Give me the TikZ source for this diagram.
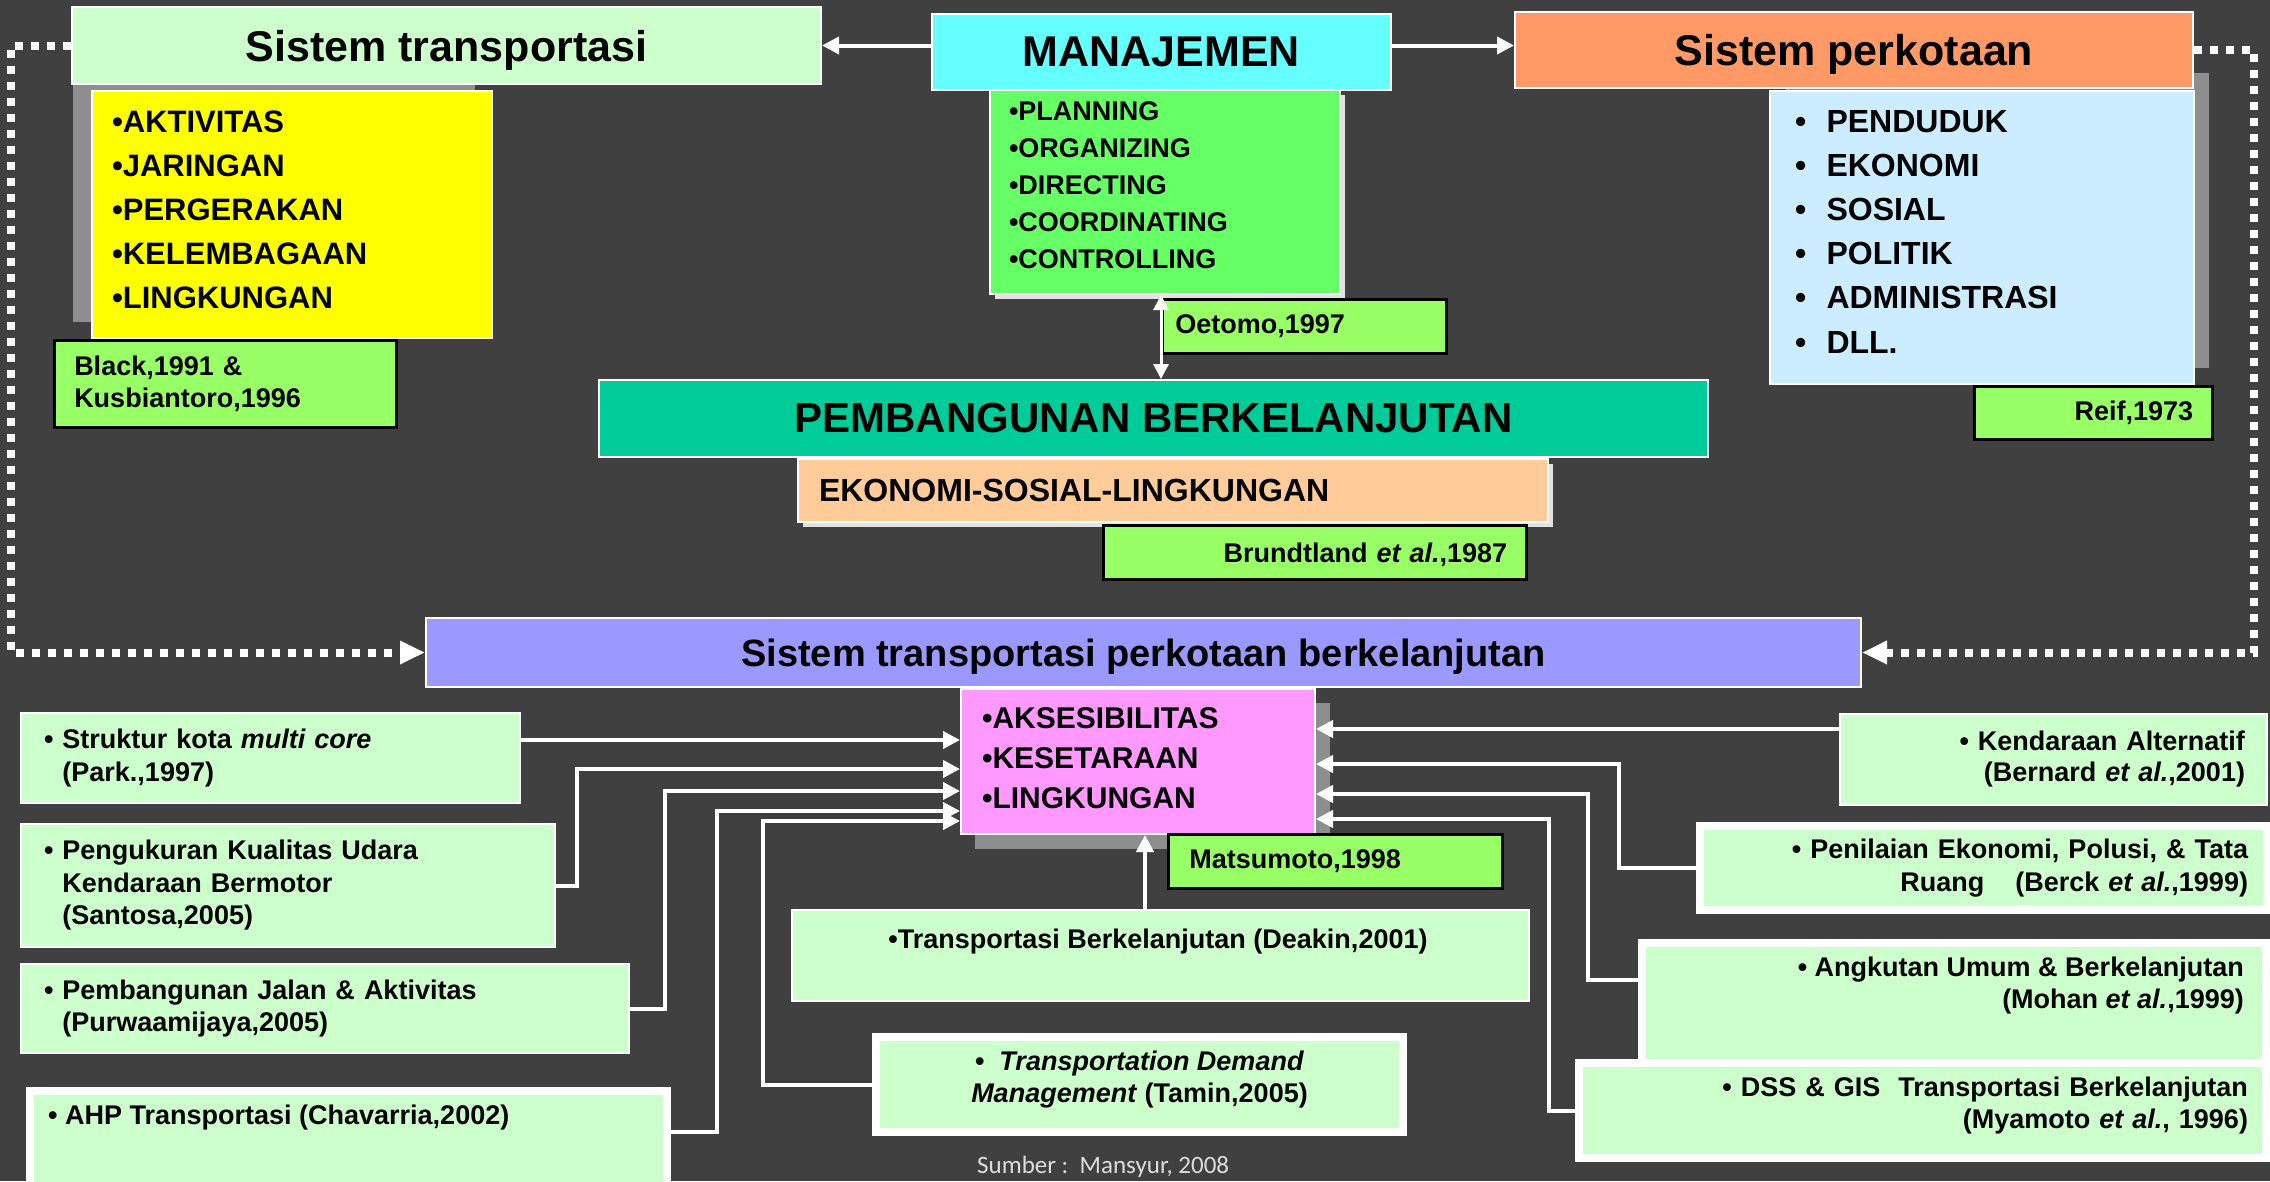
\documentclass[tikz,border=0pt]{standalone}
\usepackage{fontspec}
\setmainfont{Liberation Sans}
\newfontfamily\carlitofont{Carlito}
\usetikzlibrary{arrows.meta,calc}
\definecolor{bg}{HTML}{404040}
\definecolor{lgreen}{HTML}{CCFFCC}
\definecolor{refgreen}{HTML}{99FF66}
\definecolor{yel}{HTML}{FFFF00}
\definecolor{cyanbox}{HTML}{66FFFF}
\definecolor{plangreen}{HTML}{66FF66}
\definecolor{orangebox}{HTML}{FF9966}
\definecolor{lblue}{HTML}{CCECFF}
\definecolor{teal}{HTML}{00CC99}
\definecolor{peach}{HTML}{FFCC99}
\definecolor{violet}{HTML}{9999FF}
\definecolor{pinkbox}{HTML}{FF99FF}
\definecolor{shadowgray}{HTML}{8E8E8E}
\definecolor{shadowlight}{HTML}{E2E2E2}
\definecolor{srcgray}{HTML}{DDDDDD}
\newcommand\setfs[2]{\fontsize{#1}{#2}\selectfont\bfseries}
\begin{document}
\begin{tikzpicture}[x=1pt,y=-1pt,
  box/.style={draw=white, line width=2pt, inner sep=0pt, anchor=north west},
  thickbox/.style={draw=white, line width=8pt, inner sep=0pt, anchor=north west, fill=lgreen},
  refbox/.style={draw=black, line width=2.5pt, fill=refgreen, inner sep=0pt, anchor=north west, font=\setfs{27}{32}},
  txt/.style={inner sep=0pt, font=\setfs{27}{32}},
  arr/.style={draw=white, line width=4pt, -{Triangle[length=17pt,width=17pt]}},
  dotline/.style={draw=white, line width=8pt, dash pattern=on 8pt off 8pt, -{Triangle[length=25pt,width=22pt]}}
]
\fill[bg] (0,0) rectangle (2270,1181);
\useasboundingbox (0,0) rectangle (2270,1181);

% shadows
\fill[shadowgray] (73,85) rectangle (475,322);
\fill[shadowlight] (995,95) rectangle (1345,299);
\fill[shadowgray] (1785,73) rectangle (2209,368);
\fill[shadowlight] (803,464) rectangle (1553,527);
\fill[shadowgray] (975,703) rectangle (1330,849);

% top row
\node[box, fill=lgreen, minimum width=749pt, minimum height=77pt, text depth=0pt, font=\setfs{43}{50}] (st) at (71,6) {Sistem transportasi};
\node[box, fill=cyanbox, minimum width=459pt, minimum height=76pt, font=\setfs{43}{50}] (man) at (931,13) {MANAJEMEN};
\node[box, fill=orangebox, minimum width=678pt, minimum height=76pt, text depth=0pt, font=\setfs{43}{50}] (sp) at (1514,11) {Sistem perkotaan};

\node[box, fill=yel, minimum width=400pt, minimum height=247pt, align=left, text width=360pt, inner xsep=20pt, text depth=186pt, font=\setfs{31}{44}] (yl) at (91,90)
 {•AKTIVITAS\\•JARINGAN\\•PERGERAKAN\\•KELEMBAGAAN\\•LINGKUNGAN};
\node[refbox, minimum width=342pt, minimum height=87pt, align=left, text width=302pt, inner xsep=20pt] (rblack) at (53,339)
 {Black,1991 \&\\Kusbiantoro,1996};

\node[box, fill=plangreen, minimum width=350pt, minimum height=204pt, align=left, text width=312pt, inner xsep=19pt, text depth=161pt, font=\setfs{27}{37}] (plan) at (989,89)
 {•PLANNING\\•ORGANIZING\\•DIRECTING\\•COORDINATING\\•CONTROLLING};
\node[refbox, minimum width=284pt, minimum height=54pt, align=left, text width=258pt, inner xsep=13pt] (roet) at (1161,298) {Oetomo,1997};

\node[box, fill=lblue, minimum width=424pt, minimum height=293pt, align=left, text width=374pt, inner xsep=25pt, text depth=233pt, font=\setfs{32}{44.2}] (lb) at (1769,90)
 {\makebox[31.5pt][l]{•}PENDUDUK\\\makebox[31.5pt][l]{•}EKONOMI\\\makebox[31.5pt][l]{•}SOSIAL\\\makebox[31.5pt][l]{•}POLITIK\\\makebox[31.5pt][l]{•}ADMINISTRASI\\\makebox[31.5pt][l]{•}DLL.};
\node[refbox, minimum width=238pt, minimum height=53pt, align=right, text width=200pt, inner xsep=19pt] (rreif) at (1973,385) {Reif,1973};

% middle
\node[box, fill=teal, minimum width=1109pt, minimum height=77pt, font=\setfs{42}{50}] (pemb) at (598,379) {PEMBANGUNAN BERKELANJUTAN};
\node[box, fill=peach, minimum width=750pt, minimum height=63pt, align=left, text width=708pt, inner xsep=21pt, font=\setfs{32}{38}] (eko) at (797,458) {EKONOMI-SOSIAL-LINGKUNGAN};
\node[refbox, minimum width=423pt, minimum height=54pt, align=right, text width=385pt, inner xsep=19pt, text depth=0pt] (rbru) at (1102,524) {Brundtland \textit{et al.},1987};

\node[box, fill=violet, minimum width=1435pt, minimum height=69pt, text depth=0pt, font=\setfs{38}{44}] (stpb) at (425,617) {Sistem transportasi perkotaan berkelanjutan};

\node[box, fill=pinkbox, minimum width=354pt, minimum height=145pt, align=left, text width=312pt, inner xsep=21pt, text depth=87pt, font=\setfs{30}{40}] (pink) at (960,688)
 {•AKSESIBILITAS\\•KESETARAAN\\•LINGKUNGAN};
\node[refbox, minimum width=334pt, minimum height=54pt, align=left, text width=292pt, inner xsep=21pt] (rmat) at (1167,833) {Matsumoto,1998};

% left column
\node[box, fill=lgreen, minimum width=499pt, minimum height=90pt, align=left, text width=453pt, inner xsep=23pt, font=\setfs{27}{33}] (sk) at (20,712)
 {• Struktur kota \textit{multi core}\\\phantom{• }(Park.,1997)};
\node[box, fill=lgreen, minimum width=534pt, minimum height=123pt, align=left, text width=488pt, inner xsep=23pt, font=\setfs{27}{32.5}] (pk) at (20,823)
 {• Pengukuran Kualitas Udara\\\phantom{• }Kendaraan Bermotor\\\phantom{• }(Santosa,2005)};
\node[box, fill=lgreen, minimum width=608pt, minimum height=89pt, align=left, text width=562pt, inner xsep=23pt, font=\setfs{27}{32}] (pj) at (20,963)
 {• Pembangunan Jalan \& Aktivitas\\\phantom{• }(Purwaamijaya,2005)};
\node[thickbox, minimum width=637pt, minimum height=110pt] (ahp) at (26,1087) {};
\node[txt, anchor=base west] (ahpt) at (48,1124) {• AHP Transportasi (Chavarria,2002)};

% centre bottom
\node[box, fill=lgreen, minimum width=737pt, minimum height=91pt] (dk) at (791,909) {};
\node[txt, anchor=base] (dkt) at (1158,948) {•Transportasi Berkelanjutan (Deakin,2001)};
\node[thickbox, minimum width=527pt, minimum height=95pt, align=center, text depth=15pt, font=\setfs{27}{32}] (tdm) at (872,1033)
 {•\ \ \textit{Transportation Demand}\\\textit{Management} (Tamin,2005)};

% right column
\node[box, fill=lgreen, minimum width=427pt, minimum height=91pt, align=right, text width=383pt, inner xsep=22pt, font=\setfs{27}{31}] (ka) at (1839,713)
 {• Kendaraan Alternatif\\(Bernard \textit{et al.},2001)};
\node[thickbox, minimum width=567pt, minimum height=84pt, align=right, text width=529pt, inner xsep=19pt, font=\setfs{27}{33}] (pe) at (1696,822)
 {• Penilaian Ekonomi, Polusi, \& Tata\\Ruang\hspace{22pt} (Berck \textit{et al.},1999)};
\node[thickbox, minimum width=624pt, minimum height=121pt] (au) at (1638,939) {};
\node[txt, anchor=east, align=right] (aut) at (2244,986)
 {• Angkutan Umum \& Berkelanjutan\\(Mohan \textit{et al.},1999)};
\node[thickbox, minimum width=687pt, minimum height=95pt, align=right, text width=651pt, inner xsep=18pt, text depth=47pt, font=\setfs{27}{32}] (dss) at (1575,1059)
 {• DSS \& GIS\ \ Transportasi Berkelanjutan\\(Myamoto \textit{et al.}, 1996)};

\node[inner sep=0pt, anchor=base west, font=\carlitofont\fontsize{25}{30}\selectfont, text=srcgray] (src) at (977,1173) {Sumber :\ \ Mansyur, 2008};

% top connectors
\draw[arr] (man.west |- st.east) -- (st.east);
\draw[arr] (man.east |- st.east) -- (sp.west |- st.east);
\draw[draw=white, line width=3pt, {Triangle[length=15pt,width=15pt]}-{Triangle[length=15pt,width=15pt]}]
  (plan.south -| roet.west) -- (pemb.north -| roet.west);

% dotted loops
\draw[dotline] (st.west) -- ++(-60,0) |- (stpb.west);
\draw[dotline] (sp.east) -- ++(60,0) |- (stpb.east);

% arrival points on pink box
\coordinate (pl1) at ([yshift=21.5pt]pink.west);
\coordinate (pl2) at ([yshift=-7.5pt]pink.west);
\coordinate (pl3) at ([yshift=-29.5pt]pink.west);
\coordinate (pl4) at ([yshift=-49.5pt]pink.west);
\coordinate (pl5) at ([yshift=-59.5pt]pink.west);
\coordinate (pr1) at ([yshift=32.5pt]pink.east);
\coordinate (pr2) at ([yshift=-2.5pt]pink.east);
\coordinate (pr3) at ([yshift=-32.5pt]pink.east);
\coordinate (pr4) at ([yshift=-57.5pt]pink.east);
\coordinate (pd) at ([xshift=7pt]pink.south);

% left connectors
\draw[arr] (sk.east |- pl1) -- (pl1);
\draw[arr] (pk.east) -- ++(21,0) |- (pl2);
\draw[arr] (pj.east) -- ++(35,0) |- (pl3);
\draw[arr] ([yshift=14pt]ahp.east) -- ++(46,0) |- (pl4);
\draw[arr] (tdm.west) -- ++(-109,0) |- (pl5);

% right connectors
\draw[arr] (ka.west |- pr1) -- (pr1);
\draw[arr] (pe.west) -- ++(-77,0) |- (pr2);
\draw[arr] ([yshift=23.5pt]au.west) -- ++(-50,0) |- (pr3);
\draw[arr] (dss.west) -- ++(-26,0) |- (pr4);

% bottom centre
\draw[arr] (pd |- dk.north) -- (pd);
\end{tikzpicture}
\end{document}
